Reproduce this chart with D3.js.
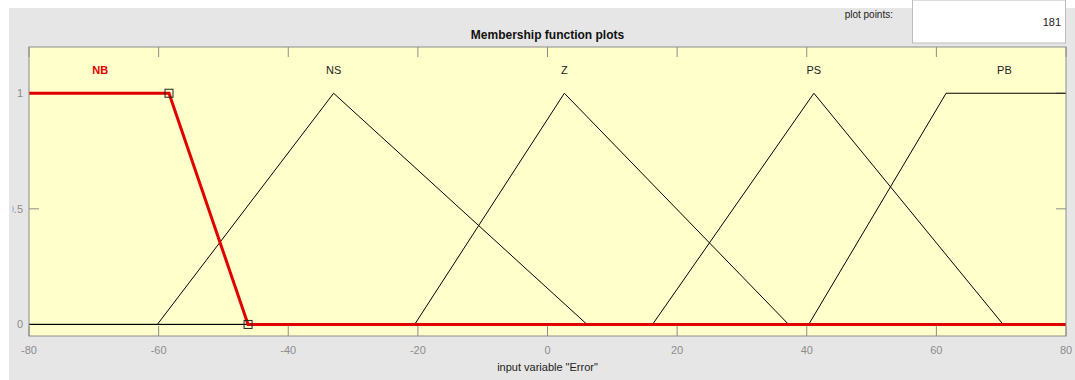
<!doctype html>
<html lang="en">
  <head>
    <meta charset="UTF-8" />
    <title>Membership function plots</title>
    <style>
      body {
        margin: 0;
        background: #fff;
      }
      svg text {
        font-family: "Liberation Sans", Arial, sans-serif;
      }
    </style>
  </head>
  <body>
    <script src="https://d3js.org/d3.v7.min.js"></script>
    <script>
      // membership functions of input variable "Error"
      const mfNames = ["NB", "NS", "Z", "PS", "PB"];
      const mfTypes = ["trapmf", "trimf", "trimf", "trimf", "trapmf"];
      const mfParams = [
        [-80, -80, -58.4, -46.2],
        [-60.2, -33, 6.1],
        [-20.5, 2.6, 37.2],
        [16.2, 41.1, 70.3],
        [40.3, 61.5, 80, 80],
      ];
      const xTicks = [-80, -60, -40, -20, 0, 20, 40, 60, 80];
      const yTicks = [0, 0.5, 1];
      const selected = 0;
      const plotPoints = 181;

      const W = 1075, H = 380;
      const svg = d3.select("body").append("svg")
        .attr("width", W).attr("height", H);

      // the y labels are cut off by the window edge in the original
      svg.append("clipPath").attr("id", "ylab")
        .append("rect").attr("x", 12.5).attr("y", 0).attr("width", 40).attr("height", H);

      svg.append("rect").attr("x", 9).attr("y", 8)
        .attr("width", W - 9).attr("height", H - 8).attr("fill", "#e6e6e6");

      const pLeft = 29, pRight = 1066, pTop = 47, pBottom = 336;
      const x = d3.scaleLinear().domain([-80, 80]).range([pLeft, pRight]);
      const y = d3.scaleLinear().domain([-0.05, 1.2]).range([pBottom, pTop]);

      svg.append("rect").attr("x", pLeft).attr("y", pTop)
        .attr("width", pRight - pLeft).attr("height", pBottom - pTop)
        .attr("fill", "#ffffcc");

      // ticks (inside, on all sides)
      const tickCol = "#8c8c8c", tl = 10;
      xTicks.forEach(t => {
        svg.append("line").attr("x1", x(t)).attr("x2", x(t))
          .attr("y1", pBottom).attr("y2", pBottom - tl).attr("stroke", tickCol);
        svg.append("line").attr("x1", x(t)).attr("x2", x(t))
          .attr("y1", pTop).attr("y2", pTop + tl).attr("stroke", tickCol);
        svg.append("text").attr("x", x(t)).attr("y", 354)
          .attr("text-anchor", "middle").attr("font-size", 11)
          .attr("fill", "#8c8c8c").text(t);
      });
      yTicks.forEach(t => {
        svg.append("line").attr("x1", pLeft).attr("x2", pLeft + tl)
          .attr("y1", y(t)).attr("y2", y(t)).attr("stroke", tickCol);
        svg.append("line").attr("x1", pRight).attr("x2", pRight - tl)
          .attr("y1", y(t)).attr("y2", y(t)).attr("stroke", tickCol);
        svg.append("text").attr("x", 23).attr("y", y(t) + 4)
          .attr("clip-path", "url(#ylab)")
          .attr("text-anchor", "end").attr("font-size", 11)
          .attr("fill", "#8c8c8c").text(t);
      });

      // membership curves
      function vertices(type, p) {
        let pts;
        if (type === "trimf") pts = [[-80, 0], [p[0], 0], [p[1], 1], [p[2], 0], [80, 0]];
        else pts = [[-80, 0], [p[0], 0], [p[1], 1], [p[2], 1], [p[3], 0], [80, 0]];
        if (type === "trapmf" && p[0] === p[1]) pts.splice(0, 3, [-80, 1]);
        if (type === "trapmf" && p[2] === p[3]) pts.splice(pts.length - 3, 3, [80, 1]);
        return pts;
      }
      const line = d3.line().x(d => x(d[0])).y(d => y(d[1]));

      const order = d3.range(mfNames.length).filter(i => i !== selected).concat([selected]);
      order.forEach(i => {
        const pts = vertices(mfTypes[i], mfParams[i]);
        svg.append("path").attr("d", line(pts)).attr("fill", "none")
          .attr("stroke", i === selected ? "#e00000" : "#000")
          .attr("stroke-width", i === selected ? 3 : 1);
        const peak = mfTypes[i] === "trimf" ? mfParams[i][1] : (mfParams[i][1] + mfParams[i][2]) / 2;
        const lx = i === 0 ? -69 : i === 4 ? 70.5 : peak;
        svg.append("text").attr("x", x(lx)).attr("y", 74)
          .attr("text-anchor", "middle").attr("font-size", 11)
          .attr("font-weight", i === selected ? "bold" : "normal")
          .attr("fill", i === selected ? "#e00000" : "#222")
          .text(mfNames[i]);
      });

      // handles on the selected function
      [[mfParams[selected][2], 1], [mfParams[selected][3], 0]].forEach(d => {
        svg.append("rect").attr("x", x(d[0]) - 4).attr("y", y(d[1]) - 4)
          .attr("width", 8).attr("height", 8)
          .attr("fill", "none").attr("stroke", "#222").attr("stroke-width", 1);
      });

      // frame
      svg.append("rect").attr("x", pLeft).attr("y", pTop)
        .attr("width", pRight - pLeft).attr("height", pBottom - pTop)
        .attr("fill", "none").attr("stroke", tickCol);

      // left / top white margins
      svg.append("rect").attr("x", 0).attr("y", 0).attr("width", 9).attr("height", H).attr("fill", "#fff");
      svg.append("rect").attr("x", 0).attr("y", 0).attr("width", W).attr("height", 8).attr("fill", "#fff");

      svg.append("text").attr("x", (pLeft + pRight) / 2).attr("y", 39)
        .attr("text-anchor", "middle").attr("font-size", 12).attr("font-weight", "bold")
        .attr("fill", "#111").text("Membership function plots");

      svg.append("text").attr("x", (pLeft + pRight) / 2).attr("y", 371)
        .attr("text-anchor", "middle").attr("font-size", 11)
        .attr("fill", "#222").text('input variable "Error"');

      // plot points box
      svg.append("rect").attr("x", 912.5).attr("y", 0).attr("width", 153).attr("height", 43)
        .attr("fill", "#fff").attr("stroke", "#bdbdbd");
      svg.append("text").attr("x", 893).attr("y", 18).attr("text-anchor", "end")
        .attr("font-size", 10).attr("fill", "#222").text("plot points:");
      svg.append("text").attr("x", 1061).attr("y", 26).attr("text-anchor", "end")
        .attr("font-size", 11).attr("fill", "#222").text(plotPoints);
    </script>
  </body>
</html>
